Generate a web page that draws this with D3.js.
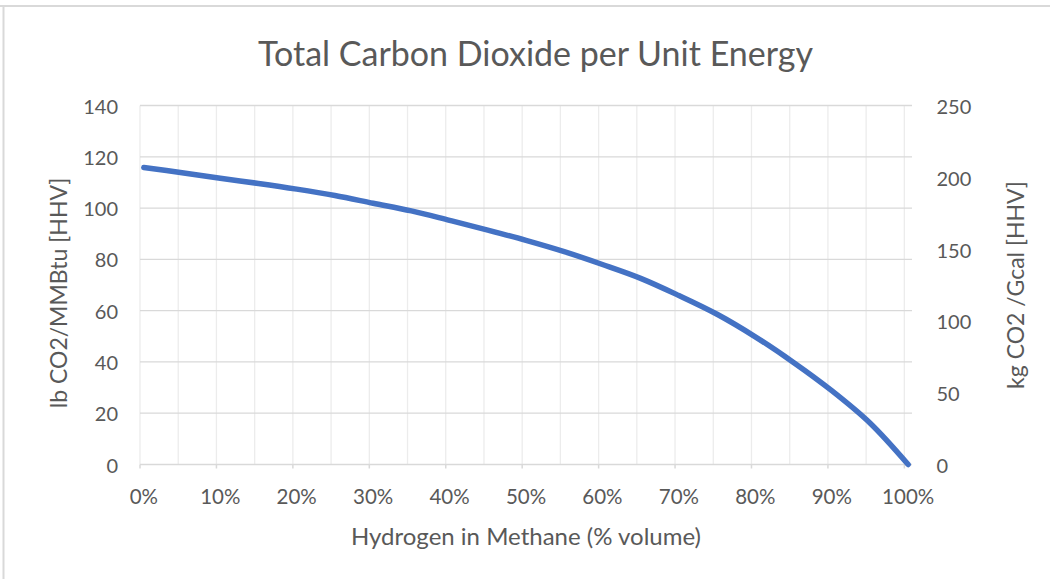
<!DOCTYPE html>
<html>
<head>
<meta charset="utf-8">
<script src="https://cdn.jsdelivr.net/npm/d3@7"></script>
<style>
  html, body { margin: 0; padding: 0; background: #fff; }
  svg { display: block; }
  text { font-family: Lato, "Open Sans", sans-serif; fill: #595959; }
</style>
</head>
<body>
<svg id="chart" width="1050" height="579"></svg>
<script>
// ---- data ----
const hydrogenPct = [0, 5, 10, 15, 20, 25, 30, 35, 40, 45, 50, 55, 60, 65, 70, 75, 80, 85, 90, 95, 100];
const co2LbPerMMBtu = [115.8, 113.8, 111.6, 109.6, 107.4, 104.9, 101.9, 98.9, 95.2, 91.4, 87.4, 83.0, 78.0, 72.6, 65.9, 58.6, 49.8, 39.8, 28.8, 16.2, 0];
const xTickLabels = ["0%", "10%", "20%", "30%", "40%", "50%", "60%", "70%", "80%", "90%", "100%"];
const xTickValues = [0, 10, 20, 30, 40, 50, 60, 70, 80, 90, 100];
const leftTicks = [0, 20, 40, 60, 80, 100, 120, 140];
const rightTicks = [0, 50, 100, 150, 200, 250];
const gridBoundaries = [0, 5, 10, 15, 20, 25, 30, 35, 40, 45, 50, 55, 60, 65, 70, 75, 80, 85, 90, 95, 100];
const titleText = "Total Carbon Dioxide per Unit Energy";
const xTitle = "Hydrogen in Methane (% volume)";
const yLeftTitle = "lb CO2/MMBtu [HHV]";
const yRightTitle = "kg CO2 /Gcal [HHV]";

// ---- layout ----
const plot = { left: 140, right: 912, top: 105.5, bottom: 464.5 };
const svg = d3.select("#chart");

// chart frame (partial border as in reference)
svg.append("line").attr("x1", 0).attr("x2", 1050).attr("y1", 6).attr("y2", 6)
  .attr("stroke", "#d9d9d9").attr("stroke-width", 2);
svg.append("line").attr("x1", 3.5).attr("x2", 3.5).attr("y1", 6).attr("y2", 579)
  .attr("stroke", "#d9d9d9").attr("stroke-width", 2);

// category axis: 101 categories (0..100 %), points at category centres
const x = d3.scaleLinear().domain([-0.5, 100.5]).range([plot.left, plot.right]);
const yL = d3.scaleLinear().domain([0, 140]).range([plot.bottom, plot.top]);
const yR = d3.scaleLinear().domain([0, 250]).range([plot.bottom, plot.top]);

// vertical gridlines at category boundaries
svg.append("g").selectAll("line").data(gridBoundaries).join("line")
  .attr("x1", d => x(d - 0.5)).attr("x2", d => x(d - 0.5))
  .attr("y1", plot.top).attr("y2", plot.bottom)
  .attr("stroke", "#ececec").attr("stroke-width", 1.3);

// horizontal gridlines
svg.append("g").selectAll("line").data(leftTicks.filter(d => d > 0)).join("line")
  .attr("x1", plot.left).attr("x2", plot.right)
  .attr("y1", d => yL(d)).attr("y2", d => yL(d))
  .attr("stroke", "#d9d9d9").attr("stroke-width", 1.3);

// bottom axis line and tick marks
svg.append("line").attr("x1", plot.left).attr("x2", plot.right)
  .attr("y1", plot.bottom).attr("y2", plot.bottom)
  .attr("stroke", "#d9d9d9").attr("stroke-width", 1.5);
svg.append("g").selectAll("line").data(xTickValues).join("line")
  .attr("x1", d => x(d - 0.5)).attr("x2", d => x(d - 0.5))
  .attr("y1", plot.bottom).attr("y2", plot.bottom + 4)
  .attr("stroke", "#d9d9d9").attr("stroke-width", 1.5);

// x tick labels (centred on category)
svg.append("g").selectAll("text").data(xTickValues).join("text")
  .attr("x", d => x(d)).attr("y", 504)
  .attr("text-anchor", "middle").attr("font-size", 20.5)
  .text((d, i) => xTickLabels[i]);

// left tick labels
svg.append("g").selectAll("text").data(leftTicks).join("text")
  .attr("x", 118).attr("y", d => yL(d) + 8)
  .attr("text-anchor", "end").attr("font-size", 20)
  .text(d => d);

// right tick labels
svg.append("g").selectAll("text").data(rightTicks).join("text")
  .attr("x", 936.5).attr("y", d => yR(d) + 8.5)
  .attr("text-anchor", "start").attr("font-size", 20)
  .text(d => d);

// series line
const line = d3.line()
  .x((d, i) => x(hydrogenPct[i]))
  .y(d => yL(d))
  .curve(d3.curveCatmullRom.alpha(0.5));
svg.append("path").datum(co2LbPerMMBtu)
  .attr("d", line).attr("fill", "none")
  .attr("stroke", "#4472C4").attr("stroke-width", 5.5)
  .attr("stroke-linecap", "round").attr("stroke-linejoin", "round");

// titles
svg.append("text").attr("x", 535.5).attr("y", 66)
  .attr("text-anchor", "middle").attr("font-size", 34)
  .text(titleText);
svg.append("text").attr("x", (plot.left + plot.right) / 2).attr("y", 545)
  .attr("text-anchor", "middle").attr("font-size", 24)
  .text(xTitle);
svg.append("text")
  .attr("transform", `translate(67,${(plot.top + plot.bottom) / 2 + 8}) rotate(-90)`)
  .attr("text-anchor", "middle").attr("font-size", 23)
  .text(yLeftTitle);
svg.append("text")
  .attr("transform", `translate(1024,${(plot.top + plot.bottom) / 2}) rotate(-90)`)
  .attr("text-anchor", "middle").attr("font-size", 23)
  .text(yRightTitle);
</script>
</body>
</html>
